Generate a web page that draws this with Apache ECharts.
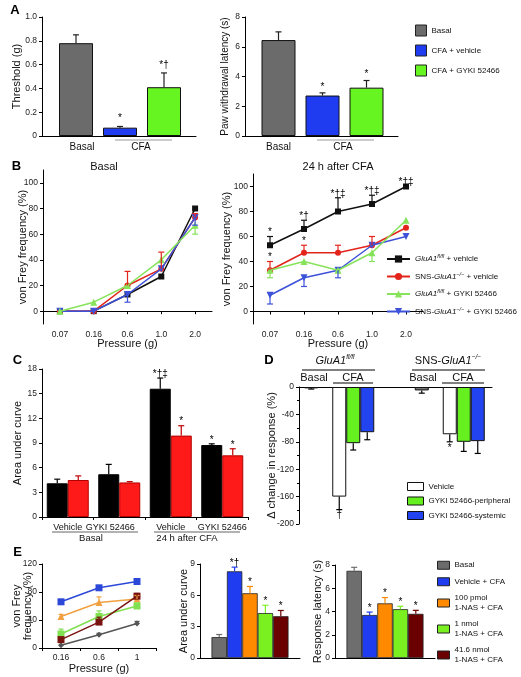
<!DOCTYPE html>
<html><head><meta charset="utf-8">
<script src="https://cdn.jsdelivr.net/npm/echarts@6/dist/echarts.min.js"></script>
<style>html,body{margin:0;padding:0;background:#fff}#c{width:521px;height:677px}</style>
</head><body><div id="c"></div>
<script>
// ---------- DATA ----------
const catsA = ['Basal', 'CFA + vehicle', 'CFA + GYKI 52466'];
const threshVals = [0.78, 0.07, 0.41];
const threshErrs = [0.07, 0.01, 0.12];
const threshAnn = ['', '*', '*\u2020'];
const latVals = [6.45, 2.72, 3.25];
const latErrs = [0.55, 0.18, 0.48];
const latAnn = ['', '*', '*'];

const pressB = ['0.07', '0.16', '0.6', '1.0', '2.0'];
const yTicksB = [0, 20, 40, 60, 80, 100];
const namesB = ['GluA1fl/fl + vehicle', 'SNS-GluA1\u2212/\u2212 + vehicle', 'GluA1fl/fl + GYKI 52466', 'SNS-GluA1\u2212/\u2212 + GYKI 52466'];
const bBasalFl = [0, 0, 13, 27, 80];
const bBasalFlErr = [0, 0, 0, 0, 0];
const bBasalSns = [0, 0, 20, 33, 73];
const bBasalSnsErr = [0, 0, 11, 13, 3];
const bBasalFlGyki = [0, 7, 20, 40, 67];
const bBasalFlGykiErr = [0, 0, 0, 0, 7];
const bBasalSnsGyki = [0, 0, 13, 33, 73];
const bBasalSnsGykiErr = [0, 0, 6, 0, 6];
const bCfaFl = [53, 66, 80, 86, 100];
const bCfaFlErr = [7, 7, 11, 7, 0];
const bCfaFlAnn = ['*', '*\u2020', '*\u2020\u2021', '*\u2020\u2021', '*\u2020\u2021'];
const bCfaSns = [33, 47, 47, 53, 67];
const bCfaSnsErr = [7, 6, 6, 7, 0];
const bCfaSnsAnn = ['*', '*', '', '', ''];
const bCfaFlGyki = [33, 40, 33, 47, 73];
const bCfaFlGykiErr = [6, 0, 0, 7, 0];
const bCfaSnsGyki = [13, 27, 33, 53, 60];
const bCfaSnsGykiErr = [7, 7, 6, 0, 0];

const catsC = ['Vehicle', 'GYKI 52466', 'Vehicle', 'GYKI 52466'];
const aucFl = [4.1, 5.2, 15.6, 8.75];
const aucFlErr = [0.5, 1.2, 1.3, 0.15];
const aucFlAnn = ['', '', '*\u2020\u2021', '*'];
const aucSns = [4.5, 4.2, 9.9, 7.5];
const aucSnsErr = [0.5, 0.1, 1.2, 0.8];
const aucSnsAnn = ['', '', '*', '*'];

const catsD = ['GluA1fl/fl', 'SNS-GluA1\u2212/\u2212'];
const namesD = ['Vehicle', 'GYKI 52466-peripheral', 'GYKI 52466-systemic'];
const dBasal = [-2, -5];
const dBasalErr = [1, 4];
const dVeh = [-160, -69];
const dVehErr = [19, 11];
const dVehAnn = ['\u2020', '*'];
const dPer = [-82, -80];
const dPerErr = [10, 14];
const dSys = [-66, -79];
const dSysErr = [11, 18];

const pressE = ['0.16', '0.6', '1'];
const namesE = ['Basal', 'Vehicle + CFA', '100 pmol\n1-NAS + CFA', '1 nmol\n1-NAS + CFA', '41.6 nmol\n1-NAS + CFA'];
const eFreq = [[4, 19, 35], [66, 86, 95], [45, 65, 70], [20, 45, 60], [12, 37, 74]];
const eFreqErr = [[0, 2, 3], [3, 3, 4], [3, 8, 5], [7, 8, 4], [3, 7, 4]];
const eAuc = [2.0, 8.3, 6.2, 4.3, 4.0];
const eAucErr = [0.25, 0.4, 0.65, 0.75, 0.55];
const eAucAnn = ['', '*\u2020', '*', '*', '*'];
const eLat = [7.5, 3.7, 4.7, 4.2, 3.8];
const eLatErr = [0.3, 0.25, 0.5, 0.25, 0.3];
const eLatAnn = ['', '*', '*', '*', '*'];

// ---------- STYLE ----------
const FONT = '"Liberation Sans", Arial, sans-serif';
const colorsA = ['#6b6b6b', '#1f3cf0', '#66f520'];
const colorsC = ['#000000', '#ff1a1a'];
const colorsD = ['#777777', '#ffffff', '#ffffff', '#66f020', '#2244f0'];
const colorsE = ['#6e6e6e', '#1f3cf0', '#ff8a00', '#7af020', '#6a0000'];
const colorsEL = ['#555555', '#2c48d8', '#f0a040', '#80e050', '#7a1410'];
const symEL = ['diamond', 'rect', 'triangle', 'rect', 'rect'];
const styleB = [
  {c: '#111111', sym: 'rect', size: 6, rot: 0},
  {c: '#e3241b', sym: 'circle', size: 6, rot: 0},
  {c: '#86e35a', sym: 'triangle', size: 7, rot: 0},
  {c: '#3d52d9', sym: 'triangle', size: 7, rot: 180}
];
const dirB = [1, 1, -1, -1];

const chart = echarts.init(document.getElementById('c'), null, {renderer: 'canvas'});

function errSeries(xi, yi, vals, errs, opt) {
  opt = opt || {};
  const dir = opt.dir || 1, off = opt.offset || 0, col = opt.color || '#000';
  const cap = opt.cap == null ? 3 : opt.cap, anns = opt.anns || [], gap = opt.gap || 0, below = !!opt.below;
  return {
    type: 'custom', xAxisIndex: xi, yAxisIndex: yi, z: 20, silent: true, clip: false,
    data: vals.map((v, j) => [j, v, errs[j]]),
    renderItem: function (params, api) {
      const j = api.value(0), v = api.value(1), e = api.value(2);
      const p0 = api.coord([j, v]), p1 = api.coord([j, v + dir * e]);
      const x = p0[0] + off;
      const ch = [];
      if (e > 0) {
        ch.push({type: 'line', shape: {x1: x, y1: p0[1], x2: x, y2: p1[1]}, style: {stroke: col, lineWidth: 1.2}});
        ch.push({type: 'line', shape: {x1: x - cap, y1: p1[1], x2: x + cap, y2: p1[1]}, style: {stroke: col, lineWidth: 1.2}});
      }
      const a = anns[params.dataIndex];
      if (a) {
        ch.push({type: 'text', x: x, y: below ? p1[1] + 1 + gap : p1[1] + 1 - gap,
          style: {text: a, align: 'center', verticalAlign: below ? 'top' : 'bottom', fontSize: 10, fontFamily: FONT, fill: '#000'}});
      }
      return {type: 'group', children: ch};
    }
  };
}

const LINE = {show: true, lineStyle: {color: '#000', width: 1}};
const NOSPLIT = {show: false};
function yVis(gi, min, max, extra) {
  return Object.assign({
    type: 'value', gridIndex: gi, min: min, max: max, splitLine: NOSPLIT, axisLine: LINE,
    axisTick: {show: true, length: 3, lineStyle: {color: '#000'}},
    axisLabel: {fontSize: 8.5, color: '#222', fontFamily: FONT, margin: 5},
    nameLocation: 'middle', nameMoveOverlap: false, nameTextStyle: {fontSize: 11, color: '#111', fontFamily: FONT}
  }, extra);
}
function yHid(gi, min, max) { return {type: 'value', gridIndex: gi, min: min, max: max, show: false}; }
function xLineOnly(gi, pos) {
  return {type: 'value', gridIndex: gi, min: 0, max: 1, position: pos || 'bottom', axisLine: LINE,
    axisTick: {show: false}, axisLabel: {show: false}, splitLine: NOSPLIT};
}

const grids = [
  {left: 54, top: 17, width: 132, height: 119},
  {left: 42, top: 17, width: 154, height: 119},
  {left: 256.5, top: 17, width: 132, height: 119},
  {left: 245, top: 17, width: 153, height: 119},
  {left: 43, top: 170, width: 169, height: 154},
  {left: 253, top: 174, width: 170, height: 150},
  {left: 42, top: 369, width: 206, height: 148},
  {left: 284, top: 387, width: 221, height: 137},
  {left: 299, top: 387, width: 193, height: 137},
  {left: 42, top: 564, width: 114, height: 84},
  {left: 200, top: 564, width: 100, height: 94},
  {left: 335, top: 565, width: 100, height: 93}
].map(g => Object.assign({outerBoundsMode: 'none', containLabel: false}, g));

const xName = {fontSize: 11, color: '#111', fontFamily: FONT};
const xAxes = [
  {type: 'category', gridIndex: 0, data: catsA, axisLine: {show: false}, axisTick: {show: false},
    axisLabel: {interval: 0, fontSize: 10, color: '#111', margin: 6, fontFamily: FONT,
      formatter: (v, i) => i === 0 ? '{sh|' + v + '}' : '', rich: {sh: {fontSize: 10, fontFamily: FONT, color: '#111', padding: [0, 0, 0, 12]}}}},
  xLineOnly(1),
  {type: 'category', gridIndex: 2, data: catsA, axisLine: {show: false}, axisTick: {show: false},
    axisLabel: {interval: 0, fontSize: 10, color: '#111', margin: 6, fontFamily: FONT, formatter: (v, i) => i === 0 ? v : ''}},
  xLineOnly(3),
  {type: 'category', gridIndex: 4, data: pressB, axisLine: LINE, axisTick: {show: true, alignWithLabel: true, length: 3, lineStyle: {color: '#000'}},
    axisLabel: {fontSize: 8.5, color: '#222', margin: 6, fontFamily: FONT}, name: 'Pressure (g)', nameLocation: 'middle', nameGap: 14,
    nameMoveOverlap: false, nameTextStyle: xName},
  {type: 'category', gridIndex: 5, data: pressB, axisLine: LINE, axisTick: {show: true, alignWithLabel: true, length: 3, lineStyle: {color: '#000'}},
    axisLabel: {fontSize: 8.5, color: '#222', margin: 6, fontFamily: FONT}, name: 'Pressure (g)', nameLocation: 'middle', nameGap: 14,
    nameMoveOverlap: false, nameTextStyle: xName},
  {type: 'category', gridIndex: 6, data: catsC, axisLine: LINE, axisTick: {show: true, length: 3, lineStyle: {color: '#000'}},
    axisLabel: {interval: 0, fontSize: 9, color: '#111', margin: 6, fontFamily: FONT,
      formatter: (v, i) => i === 1 ? '{sh|' + v + '}' : v, rich: {sh: {fontSize: 9, fontFamily: FONT, color: '#111', padding: [0, 18, 0, 0]}}}},
  {type: 'category', gridIndex: 7, data: catsD, show: false},
  xLineOnly(8, 'top'),
  {type: 'category', gridIndex: 9, data: pressE, axisLine: LINE, axisTick: {show: true, length: 3, lineStyle: {color: '#000'}},
    axisLabel: {fontSize: 8.5, color: '#222', margin: 5, fontFamily: FONT}, name: 'Pressure (g)', nameLocation: 'middle', nameGap: 15,
    nameMoveOverlap: false, nameTextStyle: xName},
  {type: 'category', gridIndex: 10, data: [''], axisLine: LINE, axisTick: {show: false}, axisLabel: {show: false}},
  {type: 'category', gridIndex: 11, data: [''], axisLine: LINE, axisTick: {show: false}, axisLabel: {show: false}}
];

const yAxes = [
  yHid(0, 0, 1),
  yVis(1, 0, 1, {interval: 0.2, name: 'Threshold (g)', nameGap: 20,
    axisLabel: {fontSize: 8.5, color: '#222', fontFamily: FONT, margin: 5, formatter: v => v === 0 ? '0' : v.toFixed(1)}}),
  yHid(2, 0, 8),
  yVis(3, 0, 8, {interval: 2, name: 'Paw withdrawal latency (s)', nameGap: 15,
    nameTextStyle: {fontSize: 10, color: '#111', fontFamily: FONT}}),
  yVis(4, -10, 110, {name: 'von Frey frequency (%)', nameGap: 15,
    axisTick: {show: true, length: 3, lineStyle: {color: '#000'}, customValues: yTicksB},
    axisLabel: {fontSize: 8.5, color: '#222', fontFamily: FONT, margin: 5, customValues: yTicksB}}),
  yVis(5, -10, 110, {name: 'von Frey frequency (%)', nameGap: 21,
    axisTick: {show: true, length: 3, lineStyle: {color: '#000'}, customValues: yTicksB},
    axisLabel: {fontSize: 8.5, color: '#222', fontFamily: FONT, margin: 5, customValues: yTicksB}}),
  yVis(6, 0, 18, {interval: 3, name: 'Area under curve', nameGap: 19}),
  yHid(7, -200, 0),
  yVis(8, -200, 0, {interval: 40, name: '\u0394 change in response (%)', nameGap: 22,
    minorTick: {show: true, splitNumber: 2, length: 2, lineStyle: {color: '#000'}}}),
  yVis(9, 0, 120, {interval: 40, name: 'von Frey\nfrequency (%)', nameGap: 9}),
  yVis(10, 0, 9, {interval: 3, name: 'Area under curve', nameGap: 11}),
  yVis(11, 0, 8, {interval: 2, name: 'Response latency (s)', nameGap: 12})
];

const series = [];
const BORDER = {borderColor: '#111', borderWidth: 1};
// Panel A bars
[[0, threshVals], [2, latVals]].forEach(([xi, vals]) => {
  catsA.forEach((nm, k) => series.push({
    type: 'bar', name: nm, xAxisIndex: xi, yAxisIndex: xi, barWidth: 34, barGap: '-100%',
    data: vals.map((v, j) => j === k ? v : '-'),
    itemStyle: Object.assign({color: colorsA[k]}, BORDER)
  }));
});
// Panel C bars
[[aucFl, 'C GluA1fl/fl'], [aucSns, 'C SNS-GluA1']].forEach(([vals, nm], k) => series.push({
  type: 'bar', name: nm, xAxisIndex: 6, yAxisIndex: 6, barWidth: 21, barGap: '0%', data: vals,
  itemStyle: {color: colorsC[k], borderColor: k ? '#b00000' : '#000', borderWidth: 1}
}));
// Panel D bars
const dSeries = [['D basal', dBasal], ['D spacer', catsD.map(() => '-')], [namesD[0], dVeh], [namesD[1], dPer], [namesD[2], dSys]];
dSeries.forEach(([nm, vals], k) => series.push({
  type: 'bar', name: nm, xAxisIndex: 7, yAxisIndex: 7, barWidth: 14, barGap: '0%', data: vals,
  itemStyle: Object.assign({color: colorsD[k]}, BORDER)
}));
// Panel E bars
[[10, eAuc], [11, eLat]].forEach(([xi, vals]) => {
  namesE.forEach((nm, k) => series.push({
    type: 'bar', name: nm, xAxisIndex: xi, yAxisIndex: xi, barWidth: 15.4, barGap: '0%', data: [vals[k]],
    itemStyle: {color: colorsE[k], borderColor: '#222', borderWidth: 0.8}
  }));
});
// Panel B lines
const basalB = [bBasalFl, bBasalSns, bBasalFlGyki, bBasalSnsGyki];
const basalBErr = [bBasalFlErr, bBasalSnsErr, bBasalFlGykiErr, bBasalSnsGykiErr];
const cfaB = [bCfaFl, bCfaSns, bCfaFlGyki, bCfaSnsGyki];
const cfaBErr = [bCfaFlErr, bCfaSnsErr, bCfaFlGykiErr, bCfaSnsGykiErr];
const cfaBAnn = [bCfaFlAnn, bCfaSnsAnn, [], []];
const drawOrder = [2, 3, 1, 0];
[[4, basalB], [5, cfaB]].forEach(([xi, sets]) => {
  drawOrder.forEach(k => {
    const s = styleB[k];
    series.push({
      type: 'line', name: namesB[k], xAxisIndex: xi, yAxisIndex: xi, data: sets[k],
      symbol: s.sym, symbolSize: s.size, symbolRotate: s.rot,
      lineStyle: {color: s.c, width: 1.5}, itemStyle: {color: s.c}, z: 3 + (3 - drawOrder.indexOf(k))
    });
  });
});
// Panel E lines
namesE.forEach((nm, k) => series.push({
  type: 'line', name: nm, xAxisIndex: 9, yAxisIndex: 9, data: eFreq[k],
  symbol: symEL[k], symbolSize: k === 0 ? 6 : 7, lineStyle: {color: colorsEL[k], width: 1.5}, itemStyle: {color: colorsEL[k]}
}));

// Error bars
series.push(errSeries(0, 0, threshVals, threshErrs, {anns: threshAnn, gap: 4, color: '#222'}));
series.push(errSeries(2, 2, latVals, latErrs, {anns: latAnn, gap: 2, color: '#222'}));
basalB.forEach((vals, k) => series.push(errSeries(4, 4, vals, basalBErr[k], {dir: dirB[k], color: styleB[k].c})));
cfaB.forEach((vals, k) => series.push(errSeries(5, 5, vals, cfaBErr[k], {dir: dirB[k], color: styleB[k].c, anns: cfaBAnn[k]})));
series.push(errSeries(6, 6, aucFl, aucFlErr, {offset: -10.5, anns: aucFlAnn, color: '#000'}));
series.push(errSeries(6, 6, aucSns, aucSnsErr, {offset: 10.5, anns: aucSnsAnn, color: '#c00000'}));
series.push(errSeries(7, 7, dBasal, dBasalErr, {dir: -1, offset: -28, color: '#000'}));
series.push(errSeries(7, 7, dVeh, dVehErr, {dir: -1, offset: 0, color: '#000', anns: dVehAnn, below: true}));
series.push(errSeries(7, 7, dPer, dPerErr, {dir: -1, offset: 14, color: '#000'}));
series.push(errSeries(7, 7, dSys, dSysErr, {dir: -1, offset: 28, color: '#000'}));
eFreq.forEach((vals, k) => series.push(errSeries(9, 9, vals, eFreqErr[k], {color: colorsEL[k], cap: 2.5})));
namesE.forEach((nm, k) => {
  series.push(errSeries(10, 10, [eAuc[k]], [eAucErr[k]], {offset: (k - 2) * 15.4, anns: [eAucAnn[k]], color: colorsE[k]}));
  series.push(errSeries(11, 11, [eLat[k]], [eLatErr[k]], {offset: (k - 2) * 15.4, anns: [eLatAnn[k]], color: colorsE[k]}));
});

// Legends
const richB = {
  i: {fontStyle: 'italic', fontSize: 8, fontFamily: FONT, lineHeight: 11, color: '#111'},
  s: {fontStyle: 'italic', fontSize: 5.5, fontFamily: FONT, lineHeight: 6, verticalAlign: 'top', color: '#111'},
  t: {fontSize: 8, fontFamily: FONT, lineHeight: 11, color: '#111'}
};
const richLabelsB = [
  '{i|GluA1}{s|fl/fl}{t| + vehicle}',
  '{t|SNS-}{i|GluA1}{s|\u2212/\u2212}{t| + vehicle}',
  '{i|GluA1}{s|fl/fl}{t| + GYKI 52466}',
  '{t|SNS-}{i|GluA1}{s|\u2212/\u2212}{t| + GYKI 52466}'
];
const legends = [
  {data: catsA, left: 415, top: 24.5, padding: 0, orient: 'vertical', icon: 'rect', itemWidth: 11, itemHeight: 11, itemGap: 8,
    selectedMode: false, itemStyle: {borderColor: '#222', borderWidth: 1}, textStyle: {fontSize: 8, color: '#111', fontFamily: FONT}},
  {data: namesB, left: 386, top: 253.5, padding: 0, orient: 'vertical', itemWidth: 23, itemHeight: 9, itemGap: 8, selectedMode: false,
    formatter: name => richLabelsB[namesB.indexOf(name)], textStyle: {fontSize: 8, color: '#111', fontFamily: FONT, rich: richB}},
  {data: namesD, left: 407, top: 482, padding: 0, orient: 'vertical', icon: 'rect', itemWidth: 16, itemHeight: 8, itemGap: 5.5,
    selectedMode: false, itemStyle: {borderColor: '#111', borderWidth: 1}, textStyle: {fontSize: 8, color: '#111', fontFamily: FONT}},
  {data: namesE, left: 437, top: 560.5, padding: 0, orient: 'vertical', icon: 'rect', itemWidth: 12, itemHeight: 8, itemGap: 7,
    selectedMode: false, itemStyle: {borderColor: '#222', borderWidth: 1}, textStyle: {fontSize: 8, lineHeight: 9.5, color: '#111', fontFamily: FONT}}
];

// Annotation graphics
function txt(x, y, t, size, extra) {
  return {type: 'text', x: x, y: y, silent: true,
    style: Object.assign({text: t, align: 'center', verticalAlign: 'middle', textAlign: 'center', textVerticalAlign: 'middle',
      fontSize: size, fontFamily: FONT, fill: '#111'}, extra || {})};
}
function ln(x1, y1, x2, y2, col, w) {
  return {type: 'line', silent: true, shape: {x1: x1, y1: y1, x2: x2, y2: y2}, style: {stroke: col || '#000', lineWidth: w || 1}};
}
const richD = {
  i: {fontStyle: 'italic', fontSize: 11, fontFamily: FONT, lineHeight: 13, fill: '#111', color: '#111'},
  s: {fontStyle: 'italic', fontSize: 6.5, fontFamily: FONT, lineHeight: 7, verticalAlign: 'top', fill: '#111', color: '#111'},
  t: {fontSize: 11, fontFamily: FONT, lineHeight: 13, fill: '#111', color: '#111'}
};
const graphic = [
  txt(15, 10.5, 'A', 13, {fontWeight: 'bold', fill: '#000'}),
  txt(16.5, 166.5, 'B', 13, {fontWeight: 'bold', fill: '#000'}),
  txt(17.5, 360.5, 'C', 13, {fontWeight: 'bold', fill: '#000'}),
  txt(269, 360.5, 'D', 13, {fontWeight: 'bold', fill: '#000'}),
  txt(17.5, 552, 'E', 13, {fontWeight: 'bold', fill: '#000'}),
  // A group labels
  ln(115, 140, 172, 140, '#999', 1.2), txt(141, 147, 'CFA', 10),
  ln(317, 140, 374, 140, '#999', 1.2), txt(343, 147, 'CFA', 10),
  // B titles
  txt(104, 167, 'Basal', 11),
  txt(338, 167, '24 h after CFA', 11),
  // C group labels
  ln(52, 532, 138, 532, '#999', 1.5), ln(154, 532, 240, 532, '#999', 1.5),
  txt(91, 538.5, 'Basal', 9.5), txt(187, 538.5, '24 h after CFA', 9.5),
  // D headers
  {type: 'text', x: 335, y: 360.5, silent: true, style: {text: '{i|GluA1}{s|fl/fl}', rich: richD, align: 'center', verticalAlign: 'middle', fontSize: 11, fontFamily: FONT}},
  {type: 'text', x: 448, y: 360.5, silent: true, style: {text: '{t|SNS-}{i|GluA1}{s|\u2212/\u2212}', rich: richD, align: 'center', verticalAlign: 'middle', fontSize: 11, fontFamily: FONT}},
  ln(302, 370, 375, 370), ln(412, 370, 485, 370),
  txt(314, 378, 'Basal', 11), txt(353, 378, 'CFA', 11),
  txt(423, 378, 'Basal', 11), txt(463, 378, 'CFA', 11),
  ln(333, 383, 373, 383), ln(442, 383, 484, 383)
];

chart.setOption({
  animation: false,
  backgroundColor: '#fff',
  textStyle: {fontFamily: FONT},
  grid: grids, xAxis: xAxes, yAxis: yAxes, series: series, legend: legends, graphic: graphic
});
</script></body></html>
